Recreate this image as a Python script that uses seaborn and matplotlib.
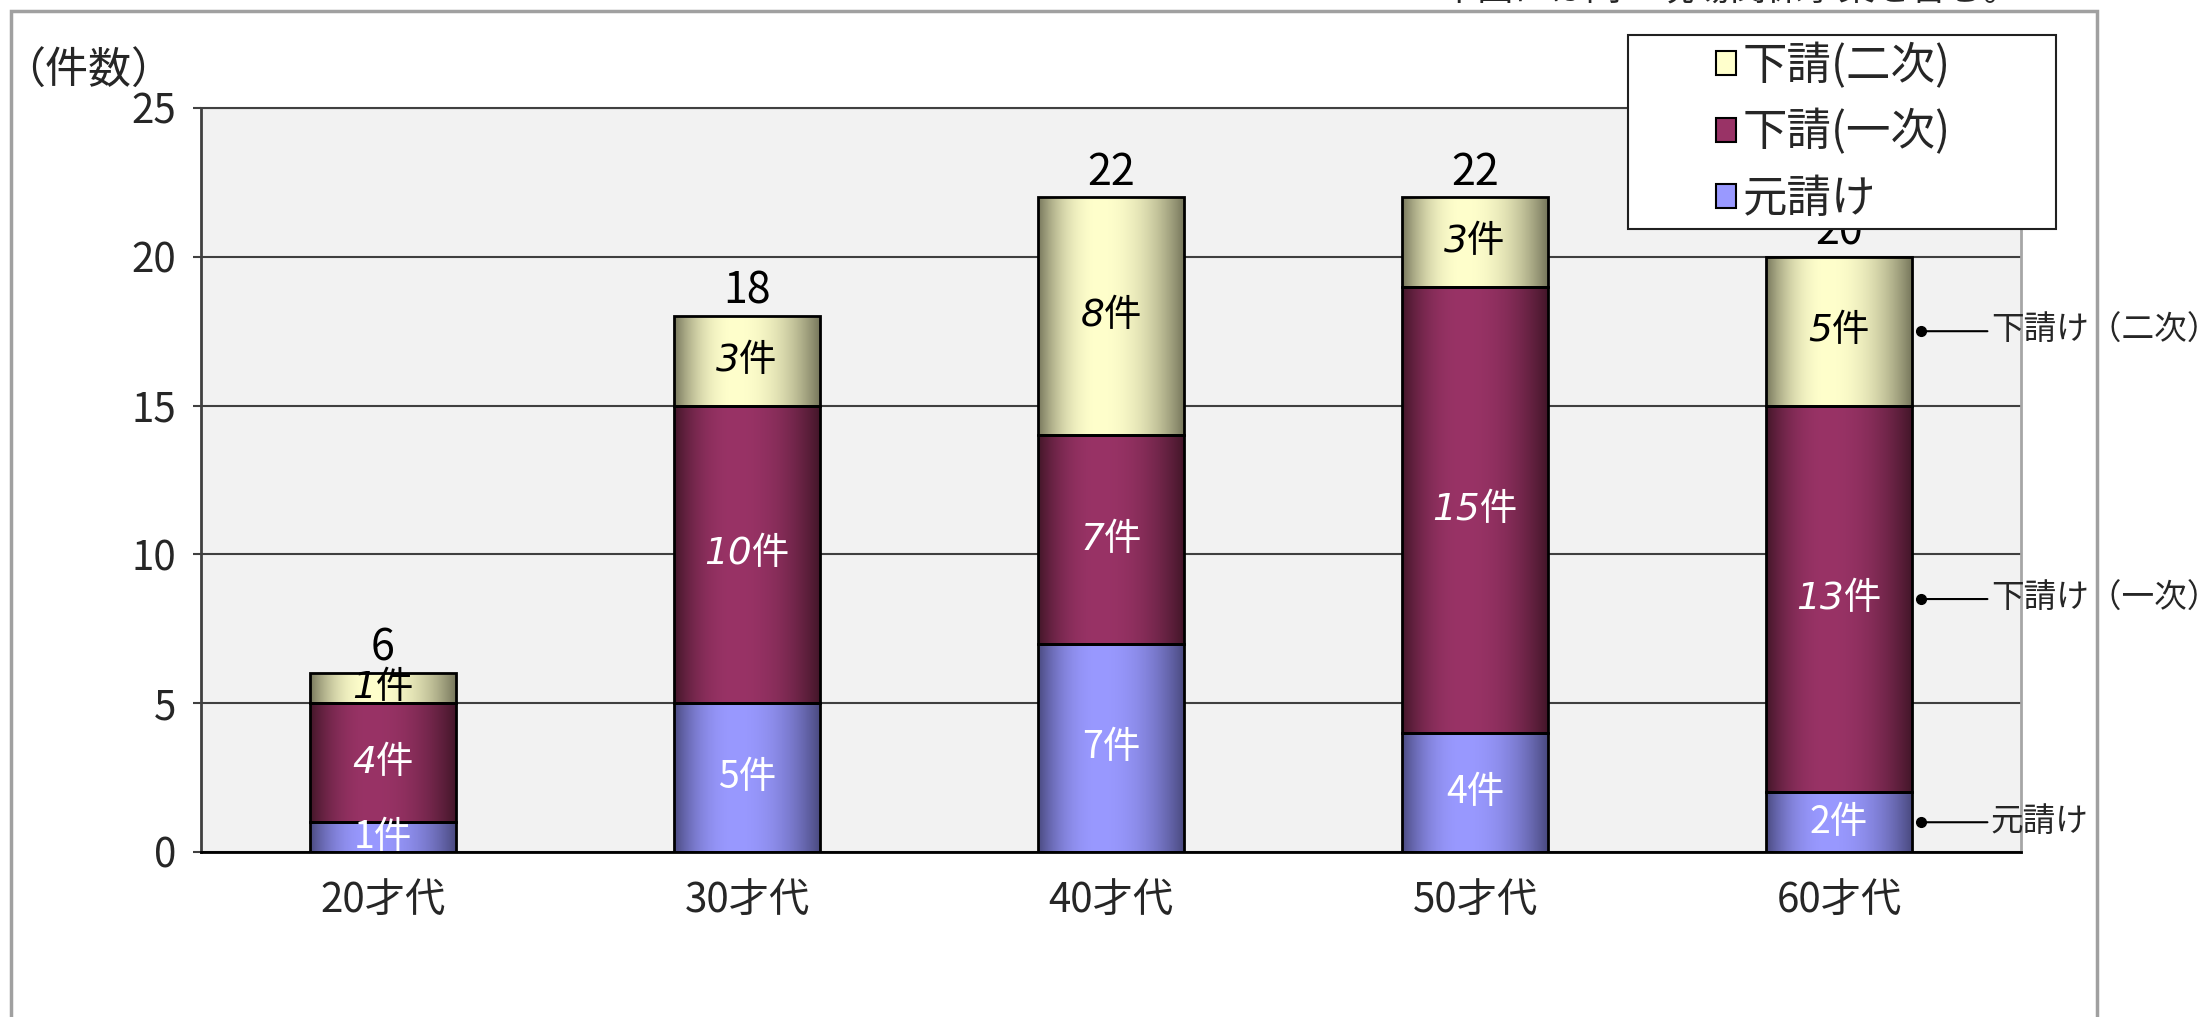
import numpy as np
import pandas as pd
import matplotlib
matplotlib.use('Agg')
import matplotlib.pyplot as plt
import seaborn as sns
from matplotlib.patches import Patch, Rectangle
from matplotlib.colors import to_rgb

# data
categories = ['20才代', '30才代', '40才代', '50才代', '60才代']
motouke = [1, 5, 7, 4, 2]          # 元請け
shita_1 = [4, 10, 7, 15, 13]       # 下請(一次)
shita_2 = [1, 3, 8, 3, 5]          # 下請(二次)
totals = [a + b + c for a, b, c in zip(motouke, shita_1, shita_2)]

series_cols = ['元請け', '下請(一次)', '下請(二次)']
side_labels = ['元請け', '下請け（一次）', '下請け（二次）']
y_ticks = [0, 5, 10, 15, 20, 25]

# (center colour, edge colour) for the cylinder-like shading
shades = [('#9999FF', '#4A4A80'), ('#993366', '#431629'), ('#FFFFCC', '#77775C')]
label_style = [('white', 'normal'), ('white', 'italic'), ('black', 'italic')]

sns.set_style('white')
plt.rcParams['font.family'] = ['Noto Sans CJK JP', 'DejaVu Sans']

df = pd.DataFrame({'age': categories, '元請け': motouke,
                   '下請(一次)': shita_1, '下請(二次)': shita_2})

fig = plt.figure(figsize=(22.04, 10.17), dpi=100)
ax = fig.add_axes([201 / 2204, 1 - 852 / 1017, 1820 / 2204, 744 / 1017])
ax.set_facecolor('#F2F2F2')

bottoms = np.zeros(len(categories))
for col, (center, edge) in zip(series_cols, shades):
    sns.barplot(data=df, x='age', y=col, bottom=bottoms.copy(), width=0.4,
                color=center, saturation=1, errorbar=None, edgecolor='black',
                linewidth=2, zorder=3, ax=ax)
    bottoms = bottoms + df[col].values


def strip(center, edge, c=0.42, n=256):
    t = np.linspace(0, 1, n)
    d = np.where(t < c, (c - t) / c, (t - c) / (1 - c))
    p = 1 - d ** 2.2
    cc, ec = np.array(to_rgb(center)), np.array(to_rgb(edge))
    return (ec + (cc - ec) * p[:, None])[None, :, :]


# shade each bar segment with a horizontal gradient clipped to the bar
for cont, (center, edge) in zip(ax.containers, shades):
    img = strip(center, edge)
    for p in cont.patches:
        x0, y0 = p.get_xy()
        im = ax.imshow(img, extent=(x0, x0 + p.get_width(), y0, y0 + p.get_height()),
                       aspect='auto', interpolation='bilinear', zorder=2.5)
        im.set_clip_path(p)
        p.set_facecolor('none')

for cont, col, (tc, st) in zip(ax.containers, series_cols, label_style):
    ax.bar_label(cont, labels=[f'{v}件' for v in df[col]], label_type='center',
                 color=tc, fontsize=27, style=st,
                 family=['DejaVu Sans', 'Noto Sans CJK JP'] if st == 'italic' else None)

ax.bar_label(ax.containers[-1], labels=[str(t) for t in totals], padding=2,
             fontsize=31, color='black')

# side labels next to the last bar
last = len(categories) - 1
mids = []
run = 0
for col in series_cols:
    v = df[col].values[last]
    mids.append(run + v / 2)
    run += v
x_dot = last + 0.2 + 0.026
for lab, m in zip(side_labels, mids):
    ax.plot([x_dot], [m], 'o', color='black', ms=7, clip_on=False, zorder=6)
    ax.annotate(lab, xy=(x_dot, m), xytext=(50, 0), textcoords='offset points',
                ha='left', va='center', fontsize=23.5, annotation_clip=False,
                arrowprops=dict(arrowstyle='-', color='black', lw=1.5,
                                shrinkA=0, shrinkB=0, relpos=(0, 0.5)))

ax.set_xlim(-0.5, len(categories) - 0.5)
ax.set_ylim(0, 25)
ax.set_yticks(y_ticks)
ax.set_xticks([i + 0.5 for i in range(len(categories) - 1)], minor=True)
ax.set_xlabel('')
ax.set_ylabel('')
ax.tick_params(axis='x', which='major', length=0, pad=20, labelsize=29)
ax.tick_params(axis='x', which='minor', direction='in', length=8, width=1.5, color='#404040')
ax.tick_params(axis='y', direction='out', length=6, width=1.5, color='#404040',
               pad=12, labelsize=29, left=True)
ax.yaxis.grid(True, color='#404040', lw=1.5)
ax.set_axisbelow(True)
for side, c, lw in [('left', '#404040', 2), ('bottom', 'black', 2),
                    ('top', '#404040', 1.5), ('right', '#A6A6A6', 2)]:
    ax.spines[side].set_visible(True)
    ax.spines[side].set_color(c)
    ax.spines[side].set_linewidth(lw)

# chart frame, legend box and loose texts
fig.add_artist(Rectangle((11 / 2204, -0.05), (2097 - 11) / 2204, 1 - 11 / 1017 + 0.05,
                         transform=fig.transFigure, fill=False, edgecolor='#A0A0A0',
                         lw=2.5, zorder=0.5))
fig.add_artist(Rectangle((1628 / 2204, 1 - 229 / 1017), (2056 - 1628) / 2204, 194 / 1017,
                         transform=fig.transFigure, facecolor='white', edgecolor='#202020',
                         lw=1.5, zorder=4))
handles = [Patch(facecolor=c, edgecolor='black', lw=1.5) for c, _ in shades[::-1]]
fig.legend(handles, series_cols[::-1], loc='upper left',
           bbox_to_anchor=(1716 / 2204, 1 - 43 / 1017), frameon=False, fontsize=32,
           handlelength=0.45, handleheight=0.45, handletextpad=0.15,
           labelspacing=0.45, borderpad=0, borderaxespad=0).set_zorder(5)

fig.text(88 / 2204, 1 - 72 / 1017, '（件数）', ha='center', va='center', fontsize=31)
fig.text(1712 / 2204, 1 - 1 / 1017, '※本図には同一現場関係事案を含む。', ha='center',
         va='baseline', fontsize=26)

fig.savefig('out.png', dpi=100)
